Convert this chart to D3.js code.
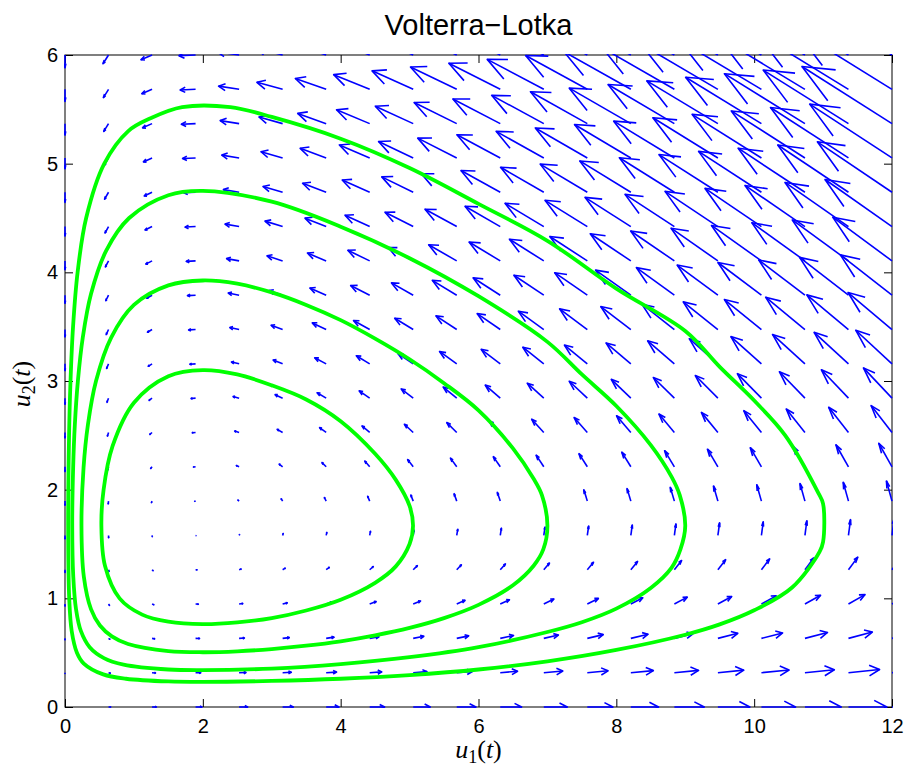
<!DOCTYPE html>
<html>
<head>
<meta charset="utf-8">
<script src="https://cdn.jsdelivr.net/npm/d3@7"></script>
<style>
  body { margin: 0; background: #fff; }
  svg { display: block; }
  .tick text { font-family: "Liberation Sans", Arial, sans-serif; font-size: 20px; fill: #000; }
</style>
</head>
<body>
<div id="chart"></div>
<script>
// grid of the direction field: 20 x 20 points over [0,12] x [0,6]
const gridU1 = [0, 0.6316, 1.2632, 1.8947, 2.5263, 3.1579, 3.7895, 4.4211, 5.0526, 5.6842,
                6.3158, 6.9474, 7.5789, 8.2105, 8.8421, 9.4737, 10.1053, 10.7368, 11.3684, 12];
const gridU2 = [0, 0.3158, 0.6316, 0.9474, 1.2632, 1.5789, 1.8947, 2.2105, 2.5263, 2.8421,
                3.1579, 3.4737, 3.7895, 4.1053, 4.4211, 4.7368, 5.0526, 5.3684, 5.6842, 6];

// Volterra-Lotka model  u1' = u1 (a - b u2),  u2' = u2 (c u1 - d)
const growthA = 5, predationB = 3, conversionC = 1, deathD = 2;
const arrowScale = 0.0098;   // quiver length scale

// four orbits (u1, u2)
const orbit1 = [[0.528,1.667],[0.58,1.3],[0.792,1.0],[1.12,0.85],[1.5,0.785],[2,0.762],[2.5,0.778],
  [3,0.818],[3.5,0.888],[4,0.987],[4.5,1.143],[4.8,1.294],[5.0,1.5],[5.05,1.667],[5.0,1.85],
  [4.8,2.09],[4.5,2.33],[4,2.63],[3.5,2.83],[3,2.96],[2.5,3.06],[2,3.10],[1.5,3.044],[1.0,2.80],
  [0.69,2.4],[0.56,2.0]];
const orbit2 = [[0.239,1.667],[0.273,1.2],[0.377,0.9],[0.507,0.75],[0.68,0.65],[0.915,0.58],
  [1.5,0.515],[2,0.504],[2.5,0.512],[3,0.533],[3.5,0.564],[4,0.605],[4.5,0.66],[5,0.728],
  [5.5,0.818],[6,0.94],[6.5,1.12],[6.8,1.30],[6.94,1.45],[7.0,1.667],[6.92,1.95],[6.8,2.10],
  [6.5,2.38],[6,2.73],[5.5,2.98],[5,3.2],[4.5,3.39],[4,3.56],[3.5,3.70],[3,3.815],[2.5,3.895],
  [2,3.925],[1.5,3.88],[1.0,3.70],[0.67,3.4],[0.45,3.0],[0.333,2.6],[0.269,2.2]];
const orbit3 = [[0.105,1.667],[0.12,1.2],[0.16,0.9],[0.23,0.7],[0.358,0.55],[0.565,0.45],[0.85,0.39],
  [1.5,0.345],[2,0.339],[3,0.354],[4,0.395],[5,0.458],[6,0.55],[7,0.69],[7.5,0.78],[8,0.905],
  [8.5,1.095],[8.8,1.28],[8.93,1.45],[9.0,1.667],[8.92,1.95],[8.8,2.12],[8.5,2.41],[8,2.77],
  [7.5,3.06],[7,3.36],[6,3.78],[5,4.13],[4,4.42],[3,4.65],[2,4.75],[1.5,4.71],[0.931,4.5],
  [0.598,4.2],[0.377,3.8],[0.258,3.4],[0.187,3.0],[0.143,2.6],[0.118,2.2]];
const orbit4 = [[0.046,1.667],[0.061,1.0],[0.097,0.7],[0.173,0.5],[0.273,0.4],[0.555,0.3],[0.885,0.26],
  [1.5,0.235],[2,0.231],[3,0.24],[4,0.26],[5,0.294],[6,0.345],[7,0.42],[8,0.525],[9,0.665],
  [9.5,0.76],[10,0.89],[10.55,1.1],[10.95,1.43],[11.0,1.52],[11.0,1.87],[10.93,1.97],[10.45,2.5],
  [10,2.82],[9.5,3.13],[9,3.46],[8,3.85],[7,4.29],[6,4.63],[5,4.96],[4,5.23],[3,5.43],[2.4,5.52],
  [1.7,5.52],[1.25,5.42],[0.918,5.3],[0.57,5.0],[0.307,4.5],[0.183,4.0],[0.117,3.5],[0.08,3.0],
  [0.059,2.5]];
const orbits = [orbit1, orbit2, orbit3, orbit4];

const xTicks = [0, 2, 4, 6, 8, 10, 12];
const yTicks = [0, 1, 2, 3, 4, 5, 6];

const W = 905, H = 769;
const mLeft = 65, mRight = 892, mTop = 55, mBottom = 707;

const svg = d3.select("#chart").append("svg")
    .attr("width", W).attr("height", H)
    .style("font-family", "'Liberation Sans', Arial, sans-serif");

const x = d3.scaleLinear().domain([0, 12]).range([mLeft, mRight]);
const y = d3.scaleLinear().domain([0, 6]).range([mBottom, mTop]);

// axes (ticks inward on all four sides)
const tick = 8;
const fmt = d3.format("d");
svg.append("g").attr("transform", `translate(0,${mBottom})`)
    .call(d3.axisBottom(x).tickValues(xTicks).tickFormat(fmt).tickSizeInner(-tick).tickSizeOuter(0).tickPadding(12));
svg.append("g").attr("transform", `translate(0,${mTop})`)
    .call(d3.axisTop(x).tickValues(xTicks).tickSizeInner(-tick).tickSizeOuter(0).tickFormat(""));
svg.append("g").attr("transform", `translate(${mLeft},0)`)
    .call(d3.axisLeft(y).tickValues(yTicks).tickFormat(fmt).tickSizeInner(-tick).tickSizeOuter(0).tickPadding(7));
svg.append("g").attr("transform", `translate(${mRight},0)`)
    .call(d3.axisRight(y).tickValues(yTicks).tickSizeInner(-tick).tickSizeOuter(0).tickFormat(""));
svg.selectAll(".domain").remove();
svg.selectAll(".tick line").attr("stroke", "#000").attr("stroke-width", 1);

svg.append("rect")
    .attr("x", mLeft).attr("y", mTop)
    .attr("width", mRight - mLeft).attr("height", mBottom - mTop)
    .attr("fill", "none").attr("stroke", "#000").attr("stroke-width", 1);

// clip for data
svg.append("clipPath").attr("id", "plotclip")
  .append("rect")
    .attr("x", mLeft - 1).attr("y", mTop - 1)
    .attr("width", mRight - mLeft + 2).attr("height", mBottom - mTop + 2);

const plot = svg.append("g").attr("clip-path", "url(#plotclip)");

// quiver arrows, arrow head as in MATLAB (alpha = beta = 0.33 in data units)
const alpha = 0.33, beta = 0.33;
const arrows = [];
gridU2.forEach(v2 => {
    gridU1.forEach(v1 => {
        const du = arrowScale * v1 * (growthA - predationB * v2);
        const dv = arrowScale * v2 * (conversionC * v1 - deathD);
        const tx = v1 + du, ty = v2 + dv;
        arrows.push([[v1, v2], [tx, ty]]);
        arrows.push([
            [tx - alpha * (du + beta * dv), ty - alpha * (dv - beta * du)],
            [tx, ty],
            [tx - alpha * (du - beta * dv), ty - alpha * (dv + beta * du)]
        ]);
    });
});

const line = d3.line().x(d => x(d[0])).y(d => y(d[1]));

plot.append("g")
    .selectAll("path")
    .data(arrows)
    .join("path")
    .attr("d", line)
    .attr("fill", "none")
    .attr("stroke", "#0000ff")
    .attr("stroke-width", 1.6)
    .attr("stroke-linejoin", "round");

// orbits
plot.append("g")
    .selectAll("path")
    .data(orbits)
    .join("path")
    .attr("d", d3.line().x(d => x(d[0])).y(d => y(d[1])).curve(d3.curveCatmullRomClosed.alpha(0.5)))
    .attr("fill", "none")
    .attr("stroke", "#00ff00")
    .attr("stroke-width", 3.8)
    .attr("stroke-linejoin", "round");

// title
svg.append("text")
    .attr("x", (mLeft + mRight) / 2).attr("y", 35)
    .attr("text-anchor", "middle")
    .style("font-size", "29px")
    .text("Volterra\u2212Lotka");

// axis labels (TeX style)
function texLabel(g, sub) {
    const t = g.append("text")
        .attr("text-anchor", "middle")
        .style("font-family", "'Liberation Serif', 'DejaVu Serif', serif")
        .style("font-size", "26px");
    t.append("tspan").style("font-style", "italic").text("u");
    t.append("tspan").attr("dy", 5).style("font-size", "18px").text(sub);
    t.append("tspan").attr("dy", -5).text("(");
    t.append("tspan").style("font-style", "italic").text("t");
    t.append("tspan").text(")");
    return t;
}
texLabel(svg.append("g").attr("transform", `translate(${(mLeft + mRight) / 2},758)`), "1");
texLabel(svg.append("g").attr("transform", `translate(30,${(mTop + mBottom) / 2 + 3}) rotate(-90)`), "2");
</script>
</body>
</html>
